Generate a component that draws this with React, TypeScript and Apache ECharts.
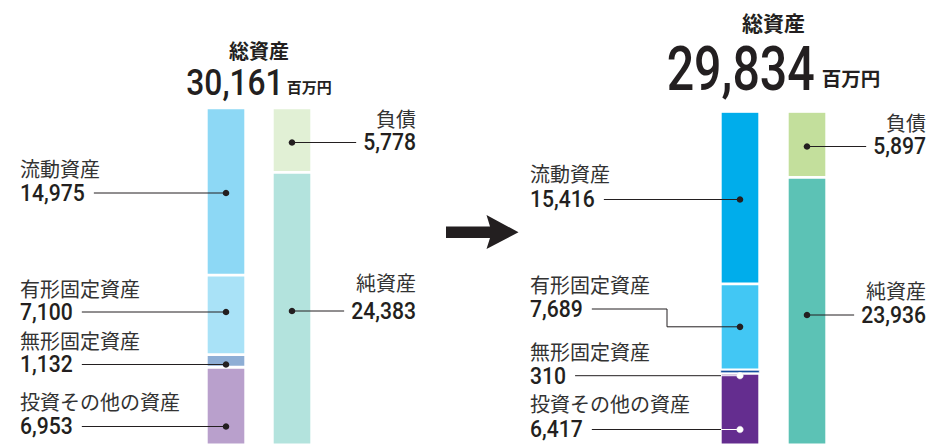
import React, { useEffect, useRef } from "react";
import * as echarts from "echarts";

// ---- data ----
const periods = ["前期", "当期"];
const barCategories = ["資産", "負債・純資産"];
// asset components, bottom to top
const assetNames = ["投資その他の資産", "無形固定資産", "有形固定資産", "流動資産"];
const prevAssets = [6953, 1132, 7100, 14975];
const currAssets = [6417, 310, 7689, 15416];
// liabilities & net assets, bottom to top
const liabNames = ["純資産", "負債"];
const prevLiab = [24383, 5778];
const currLiab = [23936, 5897];
const totals = [30161, 29834];
const totalTitle = "総資産";
const unitText = "百万円";

// ---- styles ----
const prevAssetColors = ["#b9a0cc", "#8eaed5", "#a9e2f7", "#8dd8f5"];
const currAssetColors = ["#642d8f", "#1550a2", "#42c7f4", "#00adeb"];
const prevLiabColors = ["#b3e3dd", "#e1f0d5"];
const currLiabColors = ["#5cc2b5", "#c3df9c"];
const INK = "#231f20";
const NAME_INK = "#333333";
const JP = '"Noto Sans CJK JP", "Noto Sans", sans-serif';
const NUM = 'Roboto, "Noto Sans", sans-serif';
const NUM_WEIGHT = 500;

// label layout (annotation positions)
const assetLabelX = [20, 530];
const assetLabelLayout: any[][] = [
  [
    { nameY: 401, numY: 426.5 },
    { nameY: 340, numY: 364.5 },
    { nameY: 288, numY: 312 },
    { nameY: 168, numY: 193 },
  ],
  [
    { nameY: 403, numY: 429.5, inner: true },
    { nameY: 351.5, numY: 375.7, inner: true },
    { nameY: 284, numY: 309, elbowX: 667 },
    { nameY: 173, numY: 199.5 },
  ],
];
const liabLabelRight = [416, 926];
const liabLabelLayout: any[][] = [
  [
    { nameY: 282.5, numY: 311 },
    { nameY: 118, numY: 142.5 },
  ],
  [
    { nameY: 290, numY: 315 },
    { nameY: 122.5, numY: 146.5 },
  ],
];
const headerLayout = [
  { titleY: 50, titleSize: 20, numY: 82, numSize: 36.5, numScale: 0.87, unitY: 86.7, unitSize: 15, gap: 3 },
  { titleY: 21.7, titleSize: 21, numY: 68.7, numSize: 62, numScale: 0.78, unitY: 77.8, unitSize: 19.5, gap: 7 },
];
const NUM_SIZE = 23;
const NUM_SCALE = 0.92;
const NAME_SIZE = 20;
const BORDER = 1.4;

const fmt = (v: number) => v.toLocaleString("en-US");

let measureCtx: CanvasRenderingContext2D | null = null;
function measure(text: string, font: string) {
  if (!measureCtx) measureCtx = document.createElement("canvas").getContext("2d");
  measureCtx!.font = font;
  return measureCtx!.measureText(text).width;
}

function txt(text: string, x: number, y: number, size: number, family: string, weight: any, fill: string, align: string, scaleX = 1) {
  return {
    type: "text",
    x,
    y,
    scaleX,
    silent: true,
    z: 20,
    style: {
      text,
      fontSize: size,
      fontFamily: family,
      fontWeight: weight,
      fill,
      align,
      textAlign: align,
      verticalAlign: "middle",
      textVerticalAlign: "middle",
    },
  };
}

export default function App() {
  const ref = useRef<HTMLDivElement>(null);
  useEffect(() => {
    document.body.style.margin = "0";
    const chart = echarts.init(ref.current!, null, { renderer: "svg" });
    const groups = [
      { assets: prevAssets, liab: prevLiab, aColors: prevAssetColors, lColors: prevLiabColors },
      { assets: currAssets, liab: currLiab, aColors: currAssetColors, lColors: currLiabColors },
    ];
    const series: any[] = [];
    groups.forEach((gr, gi) => {
      gr.assets.forEach((v, i) =>
        series.push({
          type: "bar",
          name: periods[gi] + assetNames[i],
          xAxisIndex: gi,
          yAxisIndex: gi,
          stack: "s" + gi,
          barWidth: 38 + BORDER,
          silent: true,
          data: [v, "-"],
          itemStyle: { color: gr.aColors[i], borderColor: "#fff", borderWidth: gi === 1 && i === 1 ? 0.8 : BORDER },
        })
      );
      gr.liab.forEach((v, i) =>
        series.push({
          type: "bar",
          name: periods[gi] + liabNames[i],
          xAxisIndex: gi,
          yAxisIndex: gi,
          stack: "s" + gi,
          barWidth: 38 + BORDER,
          silent: true,
          data: ["-", v],
          itemStyle: { color: gr.lColors[i], borderColor: "#fff", borderWidth: BORDER },
        })
      );
    });

    chart.setOption({
      animation: false,
      grid: [
        { left: 193, width: 132, top: 0, height: 447 },
        { left: 706.5, width: 134, top: 0, height: 447 },
      ],
      xAxis: [0, 1].map((i) => ({ type: "category", gridIndex: i, data: barCategories, show: false })),
      yAxis: [0, 1].map((i) => ({ type: "value", gridIndex: i, min: 0, max: 39800, show: false })),
      series,
    });

    const gfx: any[] = [];
    const numFont = `${NUM_WEIGHT} ${NUM_SIZE}px ${NUM}`;
    const pushLine = (points: number[][], color: string) =>
      gfx.push({ type: "polyline", silent: true, z: 15, shape: { points }, style: { stroke: color, lineWidth: 1, fill: null } });
    const pushDot = (x: number, y: number, white: boolean) =>
      gfx.push({
        type: "circle",
        silent: true,
        z: 16,
        shape: { cx: x, cy: y, r: 3.3 },
        style: { fill: white ? "#fff" : INK, stroke: white ? "#e8e8e8" : INK, lineWidth: white ? 0.5 : 0 },
      });

    groups.forEach((gr, gi) => {
      const finder = { xAxisIndex: gi, yAxisIndex: gi };
      const assetX = (chart.convertToPixel(finder, [0, 0]) as number[])[0];
      const liabX = (chart.convertToPixel(finder, [1, 0]) as number[])[0];

      // header
      const h = headerLayout[gi];
      const cx = (assetX + liabX) / 2;
      gfx.push(txt(totalTitle, cx, h.titleY, h.titleSize, JP, "bold", INK, "center"));
      const numStr = fmt(totals[gi]);
      const wNum = measure(numStr, `${NUM_WEIGHT} ${h.numSize}px ${NUM}`) * h.numScale;
      const wUnit = measure(unitText, `bold ${h.unitSize}px ${JP}`);
      const startX = cx - (wNum + h.gap + wUnit) / 2;
      gfx.push(txt(numStr, startX, h.numY, h.numSize, NUM, NUM_WEIGHT, INK, "left", h.numScale));
      gfx.push(txt(unitText, startX + wNum + h.gap, h.unitY, h.unitSize, JP, "bold", INK, "left"));

      // asset labels (left side)
      let cum = 0;
      gr.assets.forEach((v, i) => {
        const L = assetLabelLayout[gi][i];
        const mid = cum + v / 2;
        cum += v;
        const tx = assetLabelX[gi];
        const s = fmt(v);
        gfx.push(txt(assetNames[i], tx, L.nameY, NAME_SIZE, JP, "normal", NAME_INK, "left"));
        gfx.push(txt(s, tx, L.numY, NUM_SIZE, NUM, NUM_WEIGHT, INK, "left", NUM_SCALE));
        const lineStart = tx + measure(s, numFont) * NUM_SCALE + 9;
        if (L.elbowX) {
          const dotY = (chart.convertToPixel(finder, [0, mid]) as number[])[1];
          pushLine([[lineStart, L.numY], [L.elbowX, L.numY], [L.elbowX, dotY], [assetX, dotY]], INK);
          pushDot(assetX, dotY, false);
        } else if (L.inner) {
          const barLeft = assetX - 19;
          pushLine([[lineStart, L.numY], [barLeft, L.numY]], INK);
          pushLine([[barLeft, L.numY], [assetX, L.numY]], "#ffffff");
          pushDot(assetX, L.numY, true);
        } else {
          pushLine([[lineStart, L.numY], [assetX, L.numY]], INK);
          pushDot(assetX, L.numY, false);
        }
      });

      // liabilities labels (right side)
      gr.liab.forEach((v, i) => {
        const L = liabLabelLayout[gi][i];
        const rx = liabLabelRight[gi];
        const s = fmt(v);
        gfx.push(txt(liabNames[i], rx, L.nameY, NAME_SIZE, JP, "normal", NAME_INK, "right"));
        gfx.push(txt(s, rx, L.numY, NUM_SIZE, NUM, NUM_WEIGHT, INK, "right", NUM_SCALE));
        const lineEnd = rx - measure(s, numFont) * NUM_SCALE - 7;
        pushLine([[liabX, L.numY], [lineEnd, L.numY]], INK);
        pushDot(liabX, L.numY, false);
      });
    });

    // arrow between periods
    gfx.push({
      type: "polygon",
      silent: true,
      z: 10,
      shape: {
        points: [
          [446, 226.5],
          [490, 226.5],
          [486.5, 215],
          [518.5, 232.3],
          [486.5, 249],
          [490, 238],
          [446, 238],
        ],
      },
      style: { fill: INK },
    });

    chart.setOption({ graphic: { elements: gfx } });
    return () => chart.dispose();
  }, []);
  return <div ref={ref} style={{ width: 946, height: 445 }} />;
}
